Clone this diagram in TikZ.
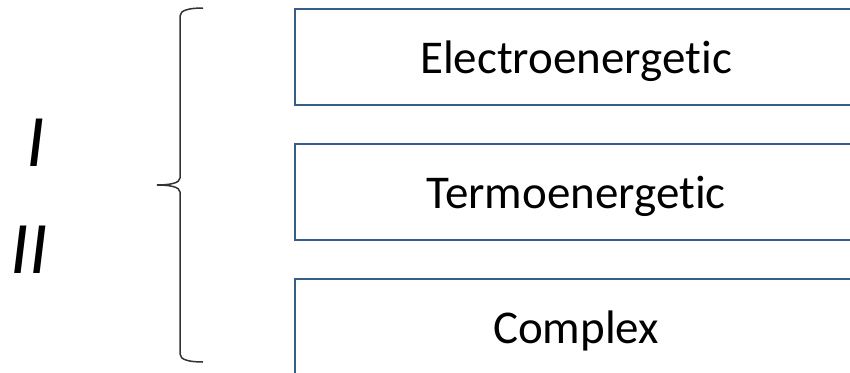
\documentclass[tikz,border=0pt]{standalone}
\usepackage{fontspec}
\setmainfont{Carlito}[Ligatures=NoCommon]
\usetikzlibrary{positioning}

\definecolor{boxblue}{RGB}{56,93,138}

\begin{document}
\begin{tikzpicture}[x=1pt, y=-1pt,
    box/.style={draw=boxblue, line width=2.5pt, minimum width=562pt, minimum height=96pt, inner sep=0pt,
        text height=34pt, text depth=2pt, font=\fontsize{47}{54}\selectfont},
    level/.style={font=\fontsize{74}{80}\selectfont\itshape, inner sep=0pt}]
	\useasboundingbox (0,0) rectangle (850,372);
	\clip (0,0) rectangle (850,372);

	\coordinate (T) at (203, 8);
    \coordinate (M) at (157, 185);
    \coordinate (B) at (203, 362);

	\node [box] (elec) at (576, 57) {Electroenergetic};
	\node [box] (termo) at (576, 192) {Termoenergetic};
	\node [box] (compl) at (576, 327) {Complex};

	\node [level] (one) at (36, 143) {I};
	\node [level] (two) at (29, 250) {II};

	\draw [line width=1.5pt, black!80] (T) .. controls (190, 8) and (180, 10) .. (180, 16) -- (180, 178)
		.. controls (180, 183) and (170, 185) .. (M) .. controls (170, 185) and (180, 187) .. (180, 192)
		-- (180, 354) .. controls (180, 360) and (190, 362) .. (B);
\end{tikzpicture}
\end{document}
